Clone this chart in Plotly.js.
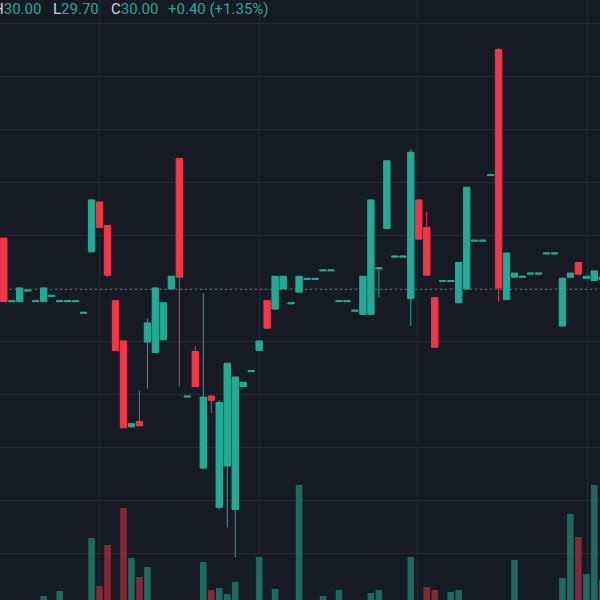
<!DOCTYPE html>
<html>
<head>
<meta charset="utf-8">
<script src="https://cdn.plot.ly/plotly-3.0.1.min.js"></script>
<style>
html,body{margin:0;padding:0;background:#161a25;}
#chart{width:600px;height:600px;}
</style>
</head>
<body>
<div id="chart"></div>
<script>
// bar index (trading sessions)
const sessions = [0,1,2,3,4,5,6,7,8,9,10,11,12,13,14,15,16,17,18,19,20,21,22,23,24,25,26,27,28,29,30,31,32,33,34,35,36,37,38,39,40,41,42,43,44,45,46,47,48,49,50,51,52,53,54,55,56,57,58,59,60,61,62,63,64,65,66,67,68,69,70,71,72,73,74,75];
const openP  = [30.48,29.88,29.88,29.98,29.88,29.88,29.93,29.88,29.88,29.88,29.77,30.35,30.82,30.60,29.89,29.51,28.70,28.75,29.50,29.40,29.52,30.00,31.23,28.98,29.41,28.31,28.99,27.94,28.33,27.92,29.08,29.22,29.42,29.89,29.81,30.00,29.86,29.97,30.09,30.09,30.17,30.17,29.88,29.88,29.79,29.76,29.76,30.19,30.57,30.30,30.30,29.91,30.84,30.58,29.92,30.07,30.07,29.87,30.00,30.45,30.45,31.07,32.26,29.90,30.11,30.11,30.14,30.14,30.33,30.33,29.65,30.11,30.25,30.10,30.08,30.09];
const highP  = [30.48,29.89,30.01,29.99,29.89,30.01,29.94,29.89,29.89,29.89,29.78,30.84,30.82,30.60,29.89,29.51,28.73,29.04,29.72,30.01,29.87,30.12,31.23,28.99,29.46,29.96,28.99,28.95,29.30,29.17,29.12,29.23,29.51,29.89,30.12,30.12,29.87,30.12,30.10,30.10,30.18,30.18,29.89,29.89,29.80,30.12,30.84,30.20,31.21,30.31,30.31,31.32,30.84,30.73,29.92,30.08,30.08,30.25,30.96,30.46,30.46,31.08,32.27,30.34,30.15,30.12,30.15,30.15,30.34,30.34,30.11,30.15,30.25,30.12,30.17,30.11];
const lowP   = [29.88,29.88,29.88,29.98,29.88,29.88,29.93,29.88,29.88,29.88,29.77,30.35,30.58,30.11,29.42,28.69,28.69,28.71,29.06,29.40,29.52,30.00,29.08,28.98,29.08,28.31,28.83,27.92,27.75,27.47,29.08,29.22,29.42,29.63,29.81,30.00,29.86,29.97,30.09,30.09,30.17,30.17,29.88,29.88,29.79,29.76,29.76,29.92,30.57,30.30,30.30,29.65,30.47,30.13,29.45,30.07,30.07,29.87,30.00,30.45,30.45,31.07,29.88,29.90,30.11,30.11,30.14,30.14,30.33,30.33,29.65,30.11,30.14,30.10,30.08,30.09];
const closeP = [29.88,29.89,30.01,29.99,29.89,30.01,29.94,29.89,29.89,29.89,29.78,30.84,30.58,30.13,29.42,28.69,28.73,28.71,29.68,30.01,29.87,30.12,30.11,28.99,29.08,28.98,28.95,28.93,29.30,29.17,29.12,29.23,29.51,29.63,30.12,30.12,29.87,30.12,30.10,30.10,30.18,30.18,29.89,29.89,29.80,30.12,30.84,30.20,31.21,30.31,30.31,31.29,30.47,30.13,29.45,30.08,30.08,30.25,30.96,30.46,30.46,31.08,30.01,30.34,30.15,30.12,30.15,30.15,30.34,30.34,30.10,30.15,30.14,30.12,30.17,30.11];
// volume in thousands of shares
const volumeK = [60,45,55,40,50,88,45,98,50,45,60,204,108,190,70,264,164,126,146,75,70,55,72,40,65,156,100,104,92,116,60,45,166,70,102,60,45,310,50,45,88,45,100,50,55,70,94,100,70,40,45,166,70,106,100,45,96,100,75,50,45,40,78,70,160,45,50,45,55,50,124,252,206,132,310,120];

// header legend pieces
const legendLabels = ["H","L","C"];
const legendValues = ["30.00","29.70","30.00"];
const changeText = "+0.40 (+1.35%)";
const lastPrice = 30.00;

const UP = "#22ab94", DOWN = "#f23645", BG = "#161a25", GRID = "#252935", LABEL = "#d1d4dc";

const volColors = sessions.map((_, i) => closeP[i] >= openP[i] ? "rgba(34,171,148,0.55)" : "rgba(242,54,69,0.5)");

const volTrace = {
  type: "bar", x: sessions, y: volumeK, yaxis: "y2",
  marker: {color: volColors, line: {width: 0}},
  hoverinfo: "skip"
};
const candleTrace = {
  type: "candlestick", x: sessions,
  open: openP, high: highP, low: lowP, close: closeP,
  increasing: {line: {color: UP, width: 1}, fillcolor: UP},
  decreasing: {line: {color: DOWN, width: 1}, fillcolor: DOWN},
  whiskerwidth: 0,
  hoverinfo: "skip"
};

const pieces = [
  {t: legendLabels[0] + "<span style='color:" + UP + "'>" + legendValues[0] + "</span>", x: -8},
  {t: legendLabels[1] + "<span style='color:" + UP + "'>" + legendValues[1] + "</span>", x: 52},
  {t: legendLabels[2] + "<span style='color:" + UP + "'>" + legendValues[2] + "</span>", x: 110},
  {t: "<span style='color:" + UP + "'>" + changeText + "</span>", x: 167}
];
const annotations = pieces.map(p => ({
  xref: "paper", yref: "paper", x: p.x / 600, y: 1, xanchor: "left", yanchor: "top",
  text: p.t, showarrow: false, font: {family: "Roboto, sans-serif", size: 15, color: LABEL},
  borderpad: 0, yshift: 1
}));

const layout = {
  width: 600, height: 600,
  margin: {l: 0, r: 0, t: 0, b: 0, pad: 0},
  paper_bgcolor: BG, plot_bgcolor: BG,
  showlegend: false,
  boxgap: 0.2, boxgroupgap: 0,
  bargap: 0.18,
  xaxis: {
    range: [-0.476, 74.71], rangeslider: {visible: false},
    tickmode: "array", tickvals: [12.05, 31.98, 51.9, 73.2],
    showticklabels: false, showgrid: true, gridcolor: GRID, gridwidth: 1,
    zeroline: false, showline: false, ticks: ""
  },
  yaxis: {
    range: [27.066, 32.726], tick0: 0, dtick: 0.5,
    showticklabels: false, showgrid: true, gridcolor: GRID, gridwidth: 1,
    zeroline: false, showline: false, ticks: ""
  },
  yaxis2: {
    overlaying: "y", range: [80, 1280], showgrid: false, showticklabels: false,
    zeroline: false, showline: false, ticks: ""
  },
  shapes: [{
    type: "line", xref: "paper", x0: 0, x1: 1, yref: "y", y0: lastPrice, y1: lastPrice,
    line: {color: UP, width: 1.5, dash: "2px,3px"}, layer: "below"
  }],
  annotations: annotations
};

Plotly.newPlot("chart", [volTrace, candleTrace], layout, {displayModeBar: false, staticPlot: true});
</script>
</body>
</html>
